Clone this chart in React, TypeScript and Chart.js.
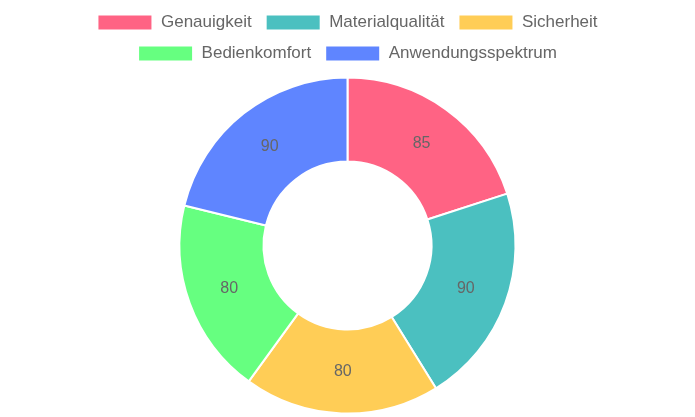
import React, { useEffect, useRef } from "react";
import { Chart, registerables } from "chart.js";

Chart.register(...registerables);

const categories = ["Genauigkeit", "Materialqualität", "Sicherheit", "Bedienkomfort", "Anwendungsspektrum"];
const values = [85, 90, 80, 80, 90];
const colors = ["#FF6384", "#4BC0C0", "#FFCD56", "#66FF80", "#5F85FF"];

const FONT = "'Liberation Sans', Arial, sans-serif";

const labelPlugin = {
  id: "sliceLabels",
  afterDatasetsDraw(chart: any) {
    const ctx = chart.ctx;
    const meta = chart.getDatasetMeta(0);
    ctx.save();
    ctx.font = `16px ${FONT}`;
    ctx.fillStyle = "#666666";
    ctx.textAlign = "center";
    ctx.textBaseline = "middle";
    meta.data.forEach((arc: any, i: number) => {
      const p = arc.tooltipPosition();
      ctx.fillText(String(chart.data.datasets[0].data[i]), p.x, p.y);
    });
    ctx.restore();
  },
};

const legendSpacing = {
  id: "legendSpacing",
  beforeInit(chart: any) {
    const legend = chart.legend;
    if (!legend) return;
    const orig = legend.fit;
    legend.fit = function (this: any) {
      orig.call(this);
      this.height += 4.5;
    };
  },
};

export default function App() {
  const ref = useRef<HTMLCanvasElement>(null);
  useEffect(() => {
    document.body.style.margin = "0";
    const chart = new Chart(ref.current as HTMLCanvasElement, {
      type: "doughnut",
      data: {
        labels: categories,
        datasets: [
          {
            data: values,
            backgroundColor: colors,
            borderColor: "#ffffff",
            borderWidth: 2,
          },
        ],
      },
      options: {
        responsive: false,
        animation: false,
        cutout: "50%",
        layout: { padding: { bottom: 2.5 } },
        plugins: {
          legend: {
            position: "top",
            labels: {
              boxWidth: 55,
              boxHeight: 16,
              padding: 14,
              color: "#666666",
              font: { size: 17, family: FONT },
            },
          },
          tooltip: { enabled: false },
        },
      },
      plugins: [legendSpacing, labelPlugin],
    });
    return () => chart.destroy();
  }, []);
  return (
    <div style={{ width: 695, height: 417 }}>
      <canvas ref={ref} width={695} height={417} />
    </div>
  );
}
